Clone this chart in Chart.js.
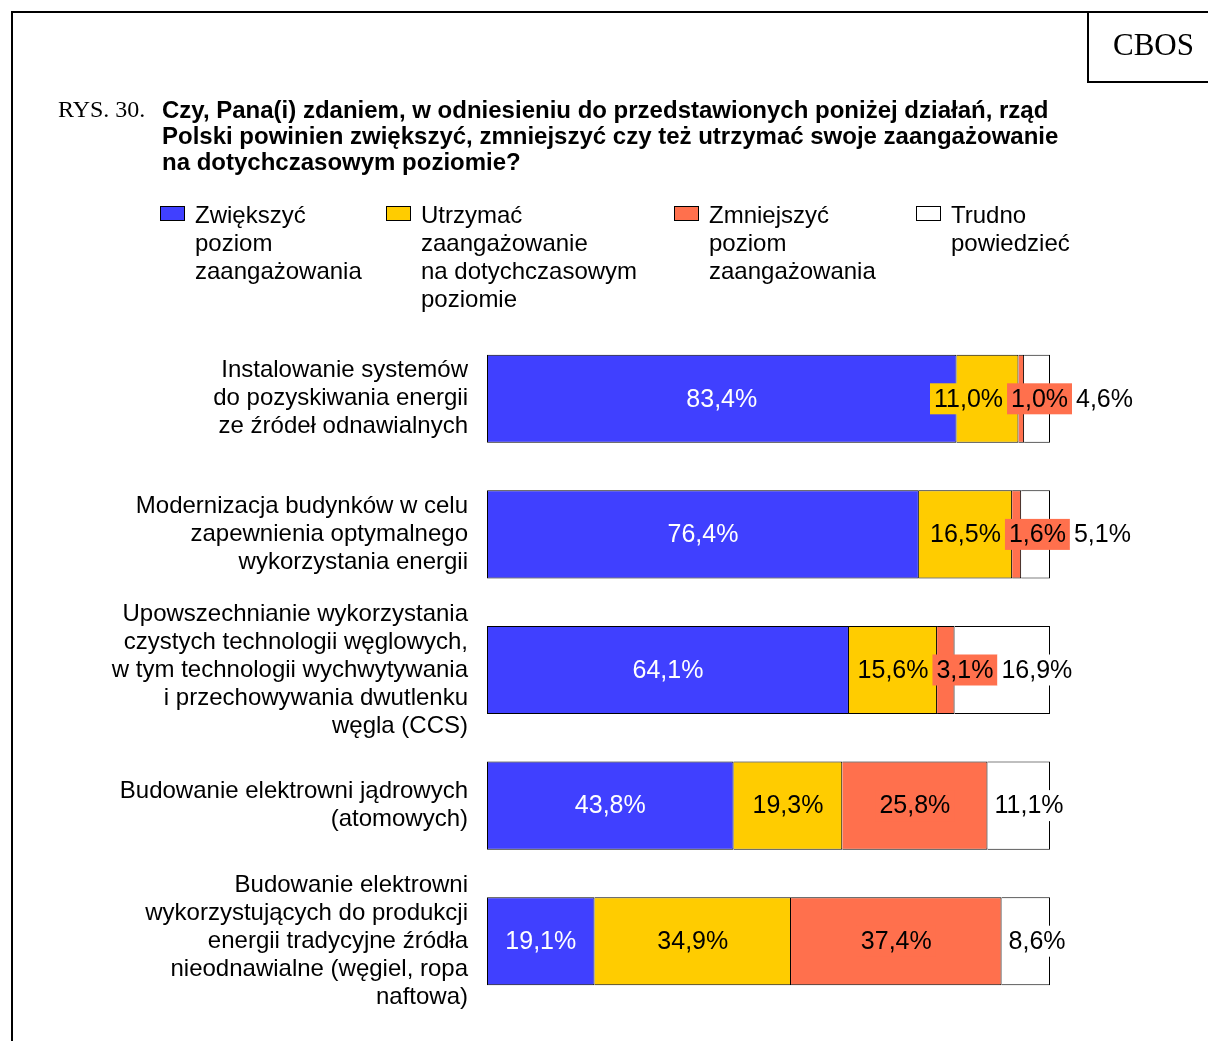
<!DOCTYPE html>
<html><head><meta charset="utf-8">
<script src="https://cdn.jsdelivr.net/npm/chart.js@4.4.1/dist/chart.umd.min.js"></script>
<style>html,body{margin:0;padding:0;background:#fff;overflow:hidden}canvas{display:block}</style>
</head><body>
<canvas id="c" width="1208" height="1041"></canvas>
<script>
const categories = [
  ["Instalowanie systemów", "do pozyskiwania energii", "ze źródeł odnawialnych"],
  ["Modernizacja budynków w celu", "zapewnienia optymalnego", "wykorzystania energii"],
  ["Upowszechnianie wykorzystania", "czystych technologii węglowych,", "w tym technologii wychwytywania", "i przechowywania dwutlenku", "węgla (CCS)"],
  ["Budowanie elektrowni jądrowych", "(atomowych)"],
  ["Budowanie elektrowni", "wykorzystujących do produkcji", "energii tradycyjne źródła", "nieodnawialne (węgiel, ropa", "naftowa)"]
];
const seriesNames = [
  ["Zwiększyć", "poziom", "zaangażowania"],
  ["Utrzymać", "zaangażowanie", "na dotychczasowym", "poziomie"],
  ["Zmniejszyć", "poziom", "zaangażowania"],
  ["Trudno", "powiedzieć"]
];
const zwiekszyc  = [83.4, 76.4, 64.1, 43.8, 19.1];
const utrzymac   = [11.0, 16.5, 15.6, 19.3, 34.9];
const zmniejszyc = [1.0, 1.6, 3.1, 25.8, 37.4];
const trudno     = [4.6, 5.1, 16.9, 11.1, 8.6];
const figureNo = "RYS. 30.";
const titleLines = [
  "Czy, Pana(i) zdaniem, w odniesieniu do przedstawionych poniżej działań, rząd",
  "Polski powinien zwiększyć, zmniejszyć czy też utrzymać swoje zaangażowanie",
  "na dotychczasowym poziomie?"
];
const sourceTag = "CBOS";

const SANS = "'Liberation Sans', Arial, sans-serif";
const SERIF = "'Liberation Serif', 'Times New Roman', serif";
const colors = ['#4040FF', '#FFCC00', '#FF704D', '#FFFFFF'];
const labelColors = ['#FFFFFF', '#000000', '#000000', '#000000'];
const labelBg = [null, '#FFCC00', '#FF704D', '#FFFFFF'];
const anchors = ['center', 'center', 'center', 'start'];
const raw = [zwiekszyc, utrzymac, zmniejszyc, trudno];
const totals = zwiekszyc.map((_, i) => raw.reduce((s, a) => s + a[i], 0));

const datasets = raw.map((arr, d) => ({
  label: seriesNames[d].join(' '),
  legendLines: seriesNames[d],
  rawValues: arr,
  data: arr.map((v, i) => v / totals[i] * 100),
  backgroundColor: colors[d],
  borderColor: '#000000',
  borderWidth: d === 0 ? {left: 1, top: 1, right: 1, bottom: 1} : {left: 0, top: 1, right: 1, bottom: 1},
  borderSkipped: false,
  categoryPercentage: 1,
  barPercentage: 0.65,
  labelColor: labelColors[d],
  labelBg: labelBg[d],
  labelAnchor: anchors[d]
}));

const framePlugin = {
  id: 'frame',
  beforeDraw(chart) {
    const c = chart.ctx;
    c.save();
    c.fillStyle = '#fff';
    c.fillRect(0, 0, chart.width, chart.height);
    c.fillStyle = '#000';
    c.fillRect(11, 11, chart.width - 11, 2);
    c.fillRect(11, 11, 2, chart.height - 11);
    c.fillRect(1087, 11, 2, 72);
    c.fillRect(1087, 81, chart.width - 1087, 2);
    c.textBaseline = 'middle';
    c.textAlign = 'left';
    c.font = '31px ' + SERIF;
    c.fillText(sourceTag, 1113, 47);
    c.font = '24px ' + SERIF;
    c.fillText(figureNo, 58, 111);
    c.font = 'bold 24px ' + SANS;
    titleLines.forEach((t, k) => c.fillText(t, 162, 111 + k * 26));
    // legend
    const xs = [160, 386, 674, 916];
    c.font = '24px ' + SANS;
    chart.data.datasets.forEach((ds, d) => {
      c.fillStyle = ds.backgroundColor;
      c.fillRect(xs[d], 206, 25, 15);
      c.strokeStyle = '#000';
      c.lineWidth = 1;
      c.strokeRect(xs[d] + 0.5, 206.5, 24, 14);
      c.fillStyle = '#000';
      ds.legendLines.forEach((t, k) => c.fillText(t, xs[d] + 35, 216 + k * 28));
    });
    c.restore();
  }
};

const labelPlugin = {
  id: 'segLabels',
  afterDatasetsDraw(chart) {
    const c = chart.ctx;
    c.save();
    c.font = '25px ' + SANS;
    c.textBaseline = 'middle';
    c.textAlign = 'center';
    const padX = 4, boxH = 31;
    const limit = chart.chartArea.right + 87;
    chart.data.labels.forEach((_, i) => {
      const boxes = chart.data.datasets.map((ds, d) => {
        const el = chart.getDatasetMeta(d).data[i];
        const text = ds.rawValues[i].toFixed(1).replace('.', ',') + '%';
        const w = c.measureText(text).width + 2 * padX;
        const l = Math.min(el.x, el.base), r = Math.max(el.x, el.base);
        const left = ds.labelAnchor === 'start' ? l + 3 : (l + r) / 2 - w / 2;
        return {text, w, left, y: el.y, ds};
      });
      for (let k = 1; k < boxes.length; k++) {
        boxes[k].left = Math.max(boxes[k].left, boxes[k - 1].left + boxes[k - 1].w);
      }
      const n = boxes.length - 1;
      if (boxes[n].left + boxes[n].w > limit) {
        boxes[n].left = limit - boxes[n].w;
        for (let k = n - 1; k >= 0; k--) {
          boxes[k].left = Math.min(boxes[k].left, boxes[k + 1].left - boxes[k].w);
        }
      }
      boxes.forEach(b => {
        if (b.ds.labelBg) {
          c.fillStyle = b.ds.labelBg;
          c.fillRect(b.left, b.y - boxH / 2, b.w, boxH);
        }
        c.fillStyle = b.ds.labelColor;
        c.fillText(b.text, b.left + b.w / 2, b.y + 1);
      });
    });
    c.restore();
  }
};

new Chart(document.getElementById('c'), {
  type: 'bar',
  data: {labels: categories, datasets},
  options: {
    indexAxis: 'y',
    responsive: false,
    animation: false,
    devicePixelRatio: 1,
    layout: {padding: {top: 331, bottom: 32, left: 0, right: 158}},
    plugins: {legend: {display: false}, tooltip: {enabled: false}, title: {display: false}},
    scales: {
      x: {stacked: true, min: 0, max: 100, display: false},
      y: {
        stacked: true,
        grid: {display: false, drawTicks: false},
        border: {display: false},
        ticks: {color: '#000', autoSkip: false, font: {family: SANS, size: 24, lineHeight: 28 / 24}, padding: 19},
        afterFit(s) { s.width = 487; s.paddingTop = 0; s.paddingBottom = 0; }
      }
    }
  },
  plugins: [framePlugin, labelPlugin]
});
</script>
</body></html>
